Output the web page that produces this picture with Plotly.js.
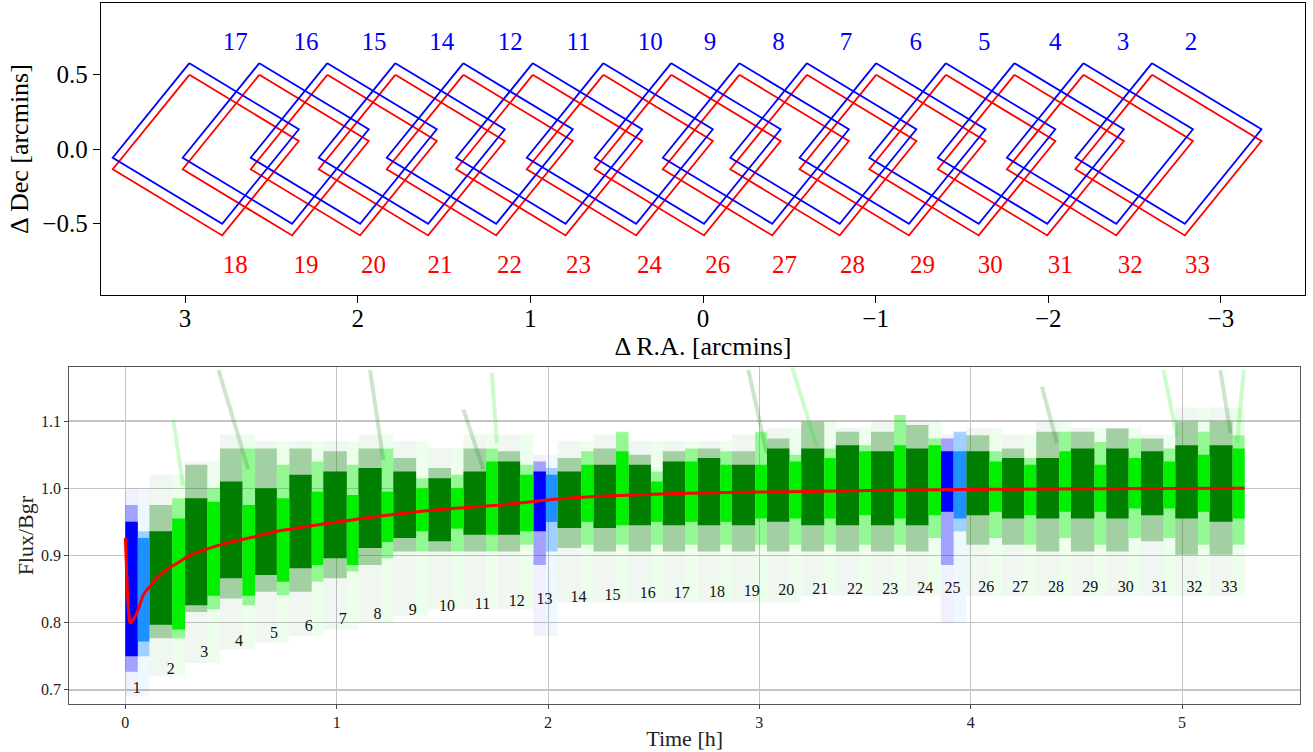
<!DOCTYPE html>
<html>
<head>
<meta charset="utf-8">
<script src="https://cdn.plot.ly/plotly-3.0.1.min.js"></script>
<style>
  html, body { margin: 0; padding: 0; background: #ffffff; }
  #chart { width: 1313px; height: 752px; }
</style>
</head>
<body>
<div id="chart"></div>
<script>
// ---------------- TOP PANEL: pointing footprints ----------------
// Blue (upper) footprints: scan labels and centre offsets [arcmin]
const blueLabels = ["17","16","15","14","12","11","10","9","8","7","6","5","4","3","2"];
const blueRA  = [2.880, 2.475, 2.081, 1.687, 1.293, 0.891, 0.482, 0.089, -0.306, -0.697, -1.098, -1.502, -1.899, -2.299, -2.696];
const blueDec = [0.037, 0.037, 0.037, 0.037, 0.037, 0.037, 0.037, 0.037, 0.037, 0.037, 0.037, 0.037, 0.037, 0.037, 0.037];
const blueLabelRA  = [2.710, 2.299, 1.905, 1.513, 1.117, 0.721, 0.306, -0.041, -0.437, -0.828, -1.233, -1.629, -2.040, -2.433, -2.827];
const blueLabelDec = 0.705;

// Red (lower) footprints
const redLabels = ["18","19","20","21","22","23","24","26","27","28","29","30","31","32","33"];
const redRA  = [2.880, 2.475, 2.081, 1.687, 1.293, 0.891, 0.482, 0.089, -0.306, -0.697, -1.098, -1.502, -1.899, -2.299, -2.696];
const redDec = [-0.041, -0.041, -0.041, -0.041, -0.041, -0.041, -0.041, -0.041, -0.041, -0.041, -0.041, -0.041, -0.041, -0.041, -0.041];
const redLabelRA  = [2.710, 2.299, 1.909, 1.523, 1.121, 0.721, 0.310, -0.086, -0.472, -0.866, -1.272, -1.664, -2.070, -2.475, -2.865];
const redLabelDec = -0.792;

// footprint geometry: square side [arcmin] and position angle [deg]
const fovSide = 0.774;
const fovPA = 10;

// ---------------- BOTTOM PANEL: Flux/Bgr vs time ----------------
const scanNames = ["1","2","3","4","5","6","7","8","9","10","11","12","13","14","15","16","17","18","19","20","21","22","23","24","25","26","27","28","29","30","31","32","33"];
const calibScans = ["1","13","25"];
// time boundaries of each scan [h]: start, split between halves, end
const scanStart = [0.000, 0.114, 0.283, 0.448, 0.614, 0.776, 0.937, 1.103, 1.268, 1.434, 1.600, 1.762, 1.931, 2.045, 2.215, 2.381, 2.543, 2.708, 2.870, 3.036, 3.198, 3.362, 3.528, 3.693, 3.859, 3.979, 4.148, 4.310, 4.474, 4.641, 4.806, 4.968, 5.130];
const scanSplit = [0.059, 0.222, 0.388, 0.554, 0.717, 0.882, 1.048, 1.213, 1.376, 1.541, 1.707, 1.868, 1.990, 2.157, 2.322, 2.487, 2.649, 2.815, 2.980, 3.142, 3.307, 3.472, 3.638, 3.800, 3.919, 4.088, 4.253, 4.419, 4.585, 4.747, 4.912, 5.075, 5.239];
const scanEnd   = [0.114, 0.283, 0.448, 0.614, 0.776, 0.937, 1.103, 1.268, 1.434, 1.600, 1.762, 1.931, 2.045, 2.215, 2.381, 2.543, 2.708, 2.870, 3.036, 3.198, 3.362, 3.528, 3.693, 3.859, 3.979, 4.148, 4.310, 4.474, 4.641, 4.806, 4.968, 5.130, 5.296];

// first half of each scan (dark green / blue): dense core and halo extents
const darkCoreHi = [0.950, 0.936, 0.985, 1.010, 1.000, 1.020, 1.025, 1.030, 1.025, 1.015, 1.025, 1.040, 1.025, 1.025, 1.035, 1.035, 1.040, 1.045, 1.035, 1.059, 1.059, 1.064, 1.055, 1.059, 1.055, 1.055, 1.045, 1.045, 1.059, 1.059, 1.055, 1.064, 1.064];
const darkCoreLo = [0.750, 0.797, 0.826, 0.866, 0.871, 0.881, 0.896, 0.911, 0.926, 0.921, 0.931, 0.931, 0.936, 0.941, 0.941, 0.945, 0.945, 0.945, 0.945, 0.950, 0.945, 0.945, 0.945, 0.945, 0.965, 0.960, 0.955, 0.955, 0.955, 0.955, 0.960, 0.955, 0.950];
const darkHaloHi = [0.975, 0.975, 1.035, 1.059, 1.059, 1.059, 1.055, 1.059, 1.045, 1.030, 1.059, 1.055, 1.040, 1.045, 1.059, 1.050, 1.055, 1.059, 1.055, 1.074, 1.099, 1.084, 1.084, 1.094, 1.074, 1.079, 1.059, 1.084, 1.084, 1.089, 1.074, 1.099, 1.099];
const darkHaloLo = [0.727, 0.777, 0.816, 0.836, 0.846, 0.846, 0.866, 0.886, 0.906, 0.906, 0.906, 0.906, 0.886, 0.911, 0.906, 0.906, 0.906, 0.906, 0.906, 0.906, 0.906, 0.906, 0.906, 0.906, 0.886, 0.916, 0.916, 0.906, 0.906, 0.906, 0.921, 0.901, 0.901];
// second half of each scan (light green / light blue)
const lightCoreHi = [0.926, 0.955, 0.980, 0.975, 0.985, 0.995, 0.990, 0.995, 1.000, 1.000, 1.040, 1.020, 1.020, 1.035, 1.055, 1.010, 1.040, 1.035, 1.035, 1.040, 1.045, 1.055, 1.064, 1.064, 1.055, 1.040, 1.035, 1.055, 1.035, 1.045, 1.040, 1.050, 1.059];
const lightCoreLo = [0.772, 0.790, 0.840, 0.840, 0.861, 0.886, 0.886, 0.920, 0.936, 0.940, 0.931, 0.936, 0.950, 0.950, 0.945, 0.950, 0.950, 0.950, 0.955, 0.955, 0.955, 0.960, 0.955, 0.960, 0.955, 0.965, 0.960, 0.965, 0.965, 0.970, 0.970, 0.965, 0.955];
const lightHaloHi = [0.936, 0.985, 1.000, 1.059, 1.035, 1.040, 1.035, 1.059, 1.015, 1.020, 1.059, 1.035, 1.030, 1.055, 1.084, 1.025, 1.059, 1.055, 1.084, 1.050, 1.059, 1.064, 1.109, 1.074, 1.084, 1.055, 1.045, 1.084, 1.069, 1.074, 1.059, 1.084, 1.079];
const lightHaloLo = [0.750, 0.777, 0.820, 0.826, 0.841, 0.861, 0.876, 0.896, 0.906, 0.906, 0.906, 0.916, 0.906, 0.916, 0.916, 0.916, 0.916, 0.916, 0.916, 0.916, 0.916, 0.916, 0.916, 0.926, 0.936, 0.926, 0.916, 0.926, 0.916, 0.926, 0.926, 0.916, 0.916];
// sparse outliers spread for each scan
const sparseLo = [0.69, 0.72, 0.74, 0.76, 0.77, 0.78, 0.79, 0.80, 0.81, 0.82, 0.82, 0.82, 0.78, 0.83, 0.83, 0.83, 0.83, 0.83, 0.83, 0.83, 0.84, 0.84, 0.84, 0.84, 0.80, 0.84, 0.84, 0.84, 0.84, 0.84, 0.84, 0.84, 0.84];
const sparseHi = [1.00, 1.02, 1.04, 1.08, 1.07, 1.07, 1.07, 1.08, 1.07, 1.06, 1.08, 1.08, 1.05, 1.07, 1.08, 1.07, 1.07, 1.07, 1.08, 1.09, 1.10, 1.09, 1.10, 1.10, 1.08, 1.09, 1.08, 1.10, 1.09, 1.09, 1.08, 1.12, 1.12];

// bright transient trails (start/end time and Flux/Bgr), colour by scan half
const trailT0 = [0.227, 0.441, 1.158, 1.600, 1.734, 2.948, 3.154, 4.337, 4.912, 5.181, 5.292];
const trailY0 = [1.102, 1.176, 1.176, 1.117, 1.172, 1.176, 1.181, 1.151, 1.176, 1.176, 1.176];
const trailT1 = [0.274, 0.582, 1.221, 1.694, 1.758, 3.035, 3.272, 4.408, 4.976, 5.229, 5.260];
const trailY1 = [1.003, 1.028, 1.042, 1.028, 1.067, 1.052, 1.062, 1.067, 1.077, 1.082, 1.067];
const trailHalf = ["light", "dark", "dark", "dark", "light", "dark", "light", "dark", "light", "dark", "light"];

// fitted curve (red)
const curveT = [0, 0.004, 0.008, 0.012, 0.017, 0.022, 0.03, 0.04, 0.054, 0.07, 0.085, 0.1, 0.117, 0.14, 0.164, 0.2, 0.243, 0.3, 0.4, 0.5, 0.6, 0.716, 0.874, 1.032, 1.19, 1.347, 1.55, 1.773, 2.01, 2.247, 2.5, 2.72, 3.146, 3.6, 4.092, 4.6, 5.296];
const curveY = [0.926, 0.895, 0.862, 0.835, 0.812, 0.800, 0.801, 0.806, 0.814, 0.828, 0.841, 0.848, 0.854, 0.863, 0.871, 0.880, 0.888, 0.899, 0.911, 0.920, 0.927, 0.936, 0.944, 0.951, 0.958, 0.964, 0.970, 0.975, 0.983, 0.988, 0.991, 0.993, 0.995, 0.997, 0.9985, 0.9993, 1.0];

// scan number label positions
const scanLabelT = [0.054, 0.215, 0.374, 0.538, 0.704, 0.868, 1.029, 1.193, 1.360, 1.522, 1.690, 1.852, 1.983, 2.144, 2.305, 2.472, 2.633, 2.799, 2.964, 3.127, 3.288, 3.453, 3.619, 3.785, 3.914, 4.073, 4.234, 4.403, 4.566, 4.734, 4.894, 5.059, 5.225];
const scanLabelY = [0.701, 0.730, 0.755, 0.771, 0.783, 0.794, 0.804, 0.811, 0.818, 0.824, 0.827, 0.831, 0.834, 0.837, 0.840, 0.842, 0.843, 0.844, 0.846, 0.847, 0.848, 0.849, 0.849, 0.850, 0.850, 0.851, 0.851, 0.851, 0.851, 0.851, 0.851, 0.852, 0.852];

// ---------------- build ----------------
const SERIF = "Liberation Serif, Times New Roman, serif";
const DARK_GREEN = "#007f00", LIME = "#00f000", BLUE = "#0000ff", LIGHT_BLUE = "#1e90ff";
const traces = [];

function squarePath(ra, dec) {
  const h = fovSide / Math.SQRT2;
  const xs = [], ys = [];
  for (let k = 0; k <= 4; k++) {
    const a = (fovPA + 90 * k) * Math.PI / 180;
    xs.push(ra + h * Math.sin(a));
    ys.push(dec + h * Math.cos(a));
  }
  return [xs, ys];
}
function footprintTrace(ras, decs, color) {
  const X = [], Y = [];
  for (let i = 0; i < ras.length; i++) {
    const [xs, ys] = squarePath(ras[i], decs[i]);
    X.push(...xs, null); Y.push(...ys, null);
  }
  return {type: "scatter", mode: "lines", x: X, y: Y, xaxis: "x", yaxis: "y",
          line: {color: color, width: 1.8}, hoverinfo: "skip", showlegend: false};
}
traces.push(footprintTrace(redRA, redDec, "#ff0000"));
traces.push(footprintTrace(blueRA, blueDec, "#0000ff"));
traces.push({type: "scatter", mode: "text", x: blueLabelRA, y: blueLabelRA.map(() => blueLabelDec),
  text: blueLabels, textfont: {family: SERIF, size: 25, color: "#0000ff"}, xaxis: "x", yaxis: "y",
  hoverinfo: "skip", showlegend: false});
traces.push({type: "scatter", mode: "text", x: redLabelRA, y: redLabelRA.map(() => redLabelDec),
  text: redLabels, textfont: {family: SERIF, size: 25, color: "#ff0000"}, xaxis: "x", yaxis: "y",
  hoverinfo: "skip", showlegend: false});

// bottom panel blocks
const isCal = scanNames.map(n => calibScans.includes(n));
const darkColors = isCal.map(c => c ? BLUE : DARK_GREEN);
const lightColors = isCal.map(c => c ? LIGHT_BLUE : LIME);
const darkX = scanStart.map((s, i) => (s + scanSplit[i]) / 2);
const darkW = scanStart.map((s, i) => scanSplit[i] - s);
const lightX = scanSplit.map((s, i) => (s + scanEnd[i]) / 2);
const lightW = scanSplit.map((s, i) => scanEnd[i] - s);

function blockTrace(xc, w, lo, hi, colors, opacity) {
  return {type: "bar", x: xc, width: w, base: lo, y: hi.map((v, i) => v - lo[i]),
          xaxis: "x2", yaxis: "y2", marker: {color: colors, opacity: opacity, line: {width: 0}},
          hoverinfo: "skip", showlegend: false};
}
traces.push(blockTrace(darkX, darkW, sparseLo, sparseHi, darkColors, 0.06));
traces.push(blockTrace(lightX, lightW, sparseLo, sparseHi, lightColors, 0.07));
traces.push(blockTrace(darkX, darkW, darkHaloLo, darkHaloHi, darkColors, 0.32));
traces.push(blockTrace(lightX, lightW, lightHaloLo, lightHaloHi, lightColors, 0.38));
traces.push(blockTrace(darkX, darkW, darkCoreLo, darkCoreHi, darkColors, 1.0));
traces.push(blockTrace(lightX, lightW, lightCoreLo, lightCoreHi, lightColors, 1.0));

// transient trails
for (let i = 0; i < trailT0.length; i++) {
  traces.push({type: "scatter", mode: "lines", x: [trailT0[i], trailT1[i]], y: [trailY0[i], trailY1[i]],
    xaxis: "x2", yaxis: "y2", line: {color: trailHalf[i] === "dark" ? DARK_GREEN : LIME, width: 4},
    opacity: 0.2, hoverinfo: "skip", showlegend: false});
}

traces.push({type: "scatter", mode: "lines", x: curveT, y: curveY, xaxis: "x2", yaxis: "y2",
  line: {color: "#ff0000", width: 3, shape: "spline", smoothing: 0.6}, hoverinfo: "skip", showlegend: false});
traces.push({type: "scatter", mode: "text", x: scanLabelT, y: scanLabelY, text: scanNames,
  textfont: {family: SERIF, size: 16, color: "#111111"}, xaxis: "x2", yaxis: "y2",
  hoverinfo: "skip", showlegend: false});

const W = 1313, H = 752;
const layout = {
  width: W, height: H,
  margin: {l: 0, r: 0, t: 0, b: 0},
  paper_bgcolor: "#ffffff", plot_bgcolor: "#ffffff",
  font: {family: SERIF, color: "#000000"},
  barmode: "overlay",
  showlegend: false,
  xaxis: {
    domain: [101 / W, 1305 / W], range: [3.487, -3.487], anchor: "y",
    tickvals: [3, 2, 1, 0, -1, -2, -3], ticks: "outside", ticklen: 7, tickwidth: 1, tickcolor: "#000",
    ticklabelstandoff: -6,
    tickfont: {family: SERIF, size: 25, color: "#000"},
    showline: true, mirror: true, linecolor: "#000", linewidth: 1.3,
    showgrid: false, zeroline: false, automargin: false,
    title: {text: "Δ R.A. [arcmins]", font: {family: SERIF, size: 26, color: "#000"}, standoff: 0}
  },
  yaxis: {
    domain: [1 - 295 / H, 1 - 3 / H], range: [-0.98, 0.98], anchor: "x",
    tickvals: [-0.5, 0, 0.5], tickformat: ".1f", ticks: "outside", ticklen: 7, tickwidth: 1, tickcolor: "#000",
    tickfont: {family: SERIF, size: 25, color: "#000"},
    showline: true, mirror: true, linecolor: "#000", linewidth: 1.3,
    showgrid: false, zeroline: false, automargin: false,
    title: {text: "Δ Dec [arcmins]", font: {family: SERIF, size: 26, color: "#000"}, standoff: 6}
  },
  xaxis2: {
    domain: [69.3 / W, 1300 / W], range: [-0.265, 5.558], anchor: "y2",
    tickvals: [0, 1, 2, 3, 4, 5], ticks: "outside", ticklen: 4, tickwidth: 1, tickcolor: "#444",
    tickfont: {family: SERIF, size: 16, color: "#222"},
    showline: true, mirror: true, linecolor: "#555", linewidth: 1.2,
    showgrid: true, gridcolor: "#c4c4c4", gridwidth: 1, zeroline: false, automargin: false,
    title: {text: "Time [h]", font: {family: SERIF, size: 22, color: "#222"}, standoff: 0}
  },
  yaxis2: {
    domain: [1 - 704 / H, 1 - 367.3 / H], range: [0.679, 1.18], anchor: "x2",
    tickvals: [0.7, 0.8, 0.9, 1.0, 1.1], tickformat: ".1f", ticks: "outside", ticklen: 4, tickwidth: 1, tickcolor: "#444",
    tickfont: {family: SERIF, size: 16, color: "#222"},
    showline: true, mirror: true, linecolor: "#555", linewidth: 1.2,
    showgrid: true, gridcolor: "#c4c4c4", gridwidth: 1.5, zeroline: false, automargin: false,
    title: {text: "Flux/Bgr", font: {family: SERIF, size: 22, color: "#222"}, standoff: 1}
  }
};

Plotly.newPlot("chart", traces, layout, {displayModeBar: false, staticPlot: true});
</script>
</body>
</html>
